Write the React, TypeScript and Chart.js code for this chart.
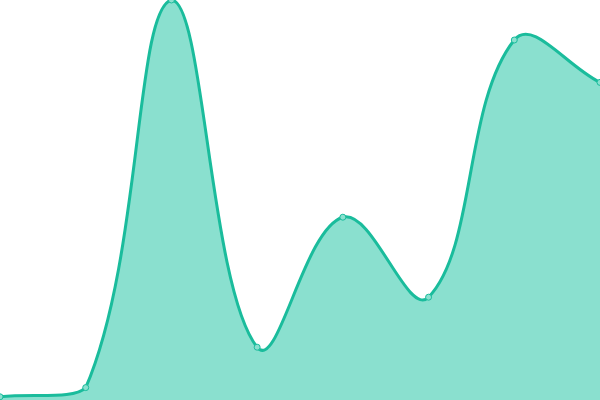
import { useEffect, useRef } from 'react';
import Chart from 'chart.js/auto';

const labels = ['1', '2', '3', '4', '5', '6', '7', '8'];
const values = [0.8, 3.1, 100, 13.2, 45.7, 25.7, 90, 79.4];
const yMin = 0;
const yMax = 100;

export default function App() {
  const chartRef = useRef<HTMLCanvasElement>(null);
  const chartInstance = useRef<Chart | null>(null);

  useEffect(() => {
    document.body.style.margin = '0';
    if (!chartRef.current) return;

    if (chartInstance.current) {
      chartInstance.current.destroy();
    }

    const ctx = chartRef.current.getContext('2d');
    if (!ctx) return;

    chartInstance.current = new Chart(ctx, {
      type: 'line',
      data: {
        labels,
        datasets: [{
          data: values,
          borderColor: '#1abc9c',
          borderWidth: 3,
          backgroundColor: '#8ae0cf',
          fill: 'start',
          tension: 0.4,
          pointRadius: 3,
          pointBorderWidth: 1,
          pointBackgroundColor: '#8ae0cf',
          pointBorderColor: '#1abc9c'
        }]
      },
      options: {
        responsive: true,
        maintainAspectRatio: false,
        layout: { padding: 0, autoPadding: false },
        plugins: {
          legend: { display: false },
          tooltip: { enabled: false }
        },
        scales: {
          x: { display: false },
          y: { display: false, min: yMin, max: yMax }
        },
        animation: false
      }
    });

    return () => {
      if (chartInstance.current) {
        chartInstance.current.destroy();
        chartInstance.current = null;
      }
    };
  }, []);

  return (
    <div style={{ width: 600, height: 400, position: 'relative' }}>
      <canvas ref={chartRef} />
    </div>
  );
}
